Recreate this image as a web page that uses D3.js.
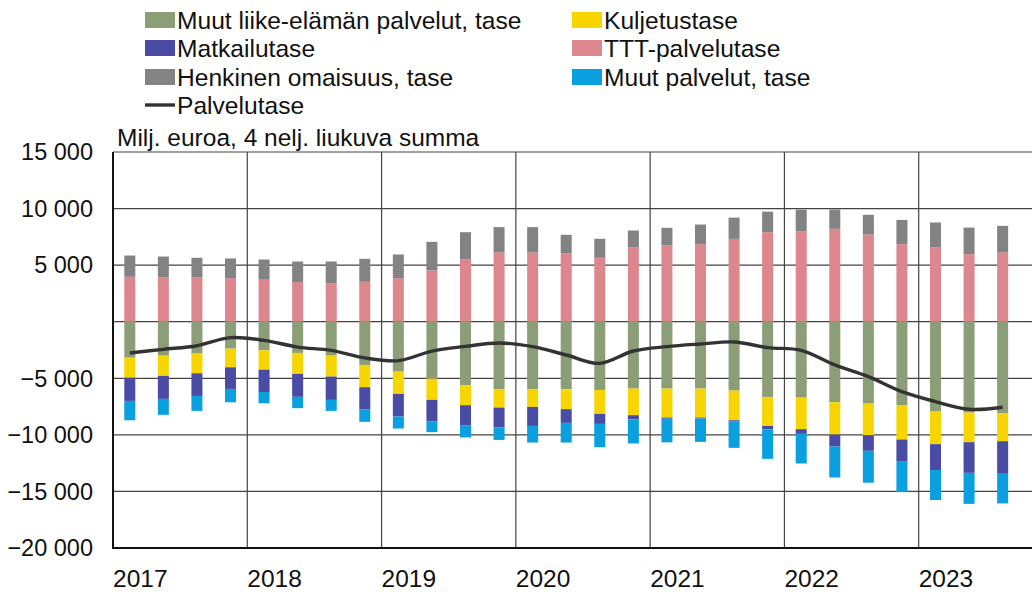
<!DOCTYPE html>
<html>
<head>
<meta charset="utf-8">
<script src="https://cdn.jsdelivr.net/npm/d3@7"></script>
<style>
  html, body { margin: 0; padding: 0; background: #fff; }
  svg { display: block; font-family: "Liberation Sans", Arial, sans-serif; }
</style>
</head>
<body>
<svg id="chart" width="1032" height="592"></svg>
<script>
const width = 1032;
const height = 592;

// quarters 2017Q1 .. 2023Q4 (last quarter has no data yet)
const years = [2017, 2018, 2019, 2020, 2021, 2022, 2023];
const quarters = [];
years.forEach(y => [1, 2, 3, 4].forEach(q => quarters.push(`${y}Q${q}`)));

// milj. euroa, 4 nelj. liukuva summa
const muutLiike = [-3180, -3000, -2820, -2380, -2530, -2760, -3000, -3820, -4410, -5030, -5620, -5970, -5970, -5970, -6030, -5910, -5910, -5910, -6090, -6650, -6710, -7120, -7240, -7410, -7940, -8030, -8090];
const kuljetus = [-1760, -1790, -1740, -1650, -1710, -1850, -1850, -1970, -1970, -1880, -1760, -1620, -1560, -1760, -2120, -2350, -2560, -2560, -2620, -2560, -2790, -2850, -2790, -3000, -2880, -2620, -2470];
const matkailu = [-2060, -2030, -2000, -1910, -1970, -2030, -2060, -1940, -2000, -1880, -1760, -1740, -1680, -1210, -880, -380, -100, -90, -120, -320, -410, -1060, -1380, -1910, -2290, -2710, -2880];
const ttt = [3970, 3910, 3910, 3850, 3710, 3500, 3410, 3530, 3850, 4530, 5500, 6120, 6120, 6060, 5650, 6590, 6740, 6850, 7320, 7910, 8000, 8210, 7710, 6850, 6590, 5970, 6120];
const henkinen = [1880, 1850, 1740, 1740, 1790, 1820, 1910, 2030, 2090, 2530, 2410, 2240, 2240, 1620, 1680, 1470, 1560, 1740, 1880, 1820, 1910, 1710, 1740, 2150, 2180, 2350, 2350];
const muutPalvelut = [-1710, -1410, -1320, -1180, -1000, -1000, -970, -1120, -1060, -970, -1090, -1120, -1470, -1740, -2060, -2120, -2090, -2060, -2320, -2590, -2620, -2740, -2820, -2740, -2650, -2740, -2620];
const palvelutase = [-2760, -2440, -2120, -1410, -1650, -2240, -2530, -3200, -3440, -2600, -2180, -1880, -2200, -2940, -3680, -2590, -2200, -1970, -1790, -2290, -2530, -3820, -4850, -6180, -7060, -7740, -7560];

const yTicks = [15000, 10000, 5000, 0, -5000, -10000, -15000, -20000];

const series = [
  { key: 'muutLiike', name: 'Muut liike-elämän palvelut, tase', values: muutLiike, color: '#8b9e77' },
  { key: 'kuljetus', name: 'Kuljetustase', values: kuljetus, color: '#f6d500' },
  { key: 'matkailu', name: 'Matkailutase', values: matkailu, color: '#4a4ba3' },
  { key: 'ttt', name: 'TTT-palvelutase', values: ttt, color: '#dc868e' },
  { key: 'henkinen', name: 'Henkinen omaisuus, tase', values: henkinen, color: '#838383' },
  { key: 'muutPalvelut', name: 'Muut palvelut, tase', values: muutPalvelut, color: '#0aa0e0' },
];

const rows = palvelutase.map((_, i) => {
  const r = { q: quarters[i] };
  series.forEach(s => { r[s.key] = s.values[i]; });
  return r;
});

const margin = { top: 152, left: 113, bottom: 44 };
const plotRight = 1053;   // plot continues past the image edge

const x = d3.scaleBand()
  .domain(quarters)
  .range([margin.left, plotRight])
  .paddingInner(0.672)
  .paddingOuter(0.336);

const y = d3.scaleLinear()
  .domain([-20000, 15000])
  .range([height - margin.bottom, margin.top]);

const svg = d3.select('#chart');
svg.append('rect').attr('width', width).attr('height', height).attr('fill', '#fff');

const edge = i => margin.left + i * x.step();

// grid
svg.append('g')
  .selectAll('line')
  .data(yTicks.filter(t => t !== -20000))
  .join('line')
  .attr('x1', margin.left).attr('x2', plotRight)
  .attr('y1', d => y(d)).attr('y2', d => y(d))
  .attr('stroke', '#444').attr('stroke-width', 1.2);

svg.append('g')
  .selectAll('line')
  .data(years.slice(1))
  .join('line')
  .attr('x1', (d, i) => edge((i + 1) * 4)).attr('x2', (d, i) => edge((i + 1) * 4))
  .attr('y1', y(15000)).attr('y2', y(-20000))
  .attr('stroke', '#444').attr('stroke-width', 1.2);

// bars
const stacked = d3.stack()
  .keys(series.map(s => s.key))
  .offset(d3.stackOffsetDiverging)(rows);

svg.append('g')
  .selectAll('g')
  .data(stacked)
  .join('g')
  .attr('fill', (d, i) => series[i].color)
  .selectAll('rect')
  .data(d => d)
  .join('rect')
  .attr('x', d => x(d.data.q))
  .attr('width', x.bandwidth())
  .attr('y', d => y(Math.max(d[0], d[1])))
  .attr('height', d => Math.abs(y(d[0]) - y(d[1])));

// line
const line = d3.line()
  .x((d, i) => x(quarters[i]) + x.bandwidth() / 2)
  .y(d => y(d))
  .curve(d3.curveCatmullRom.alpha(0.5));

svg.append('path')
  .datum(palvelutase)
  .attr('d', line)
  .attr('fill', 'none')
  .attr('stroke', '#333')
  .attr('stroke-width', 3.4)
  .attr('stroke-linejoin', 'round');

// axes lines
svg.append('line')
  .attr('x1', margin.left).attr('x2', margin.left)
  .attr('y1', y(15000)).attr('y2', y(-20000) + 1)
  .attr('stroke', '#111').attr('stroke-width', 2);
svg.append('line')
  .attr('x1', margin.left - 1).attr('x2', plotRight)
  .attr('y1', y(-20000)).attr('y2', y(-20000))
  .attr('stroke', '#111').attr('stroke-width', 2);

// y labels
const fmt = v => d3.format(',')(v).replace(/,/g, ' ');
svg.append('g')
  .selectAll('text')
  .data(yTicks.filter(t => t !== 0))
  .join('text')
  .attr('x', 93)
  .attr('y', d => y(d))
  .attr('dy', '0.35em')
  .attr('text-anchor', 'end')
  .attr('font-size', 23.5)
  .attr('fill', '#111')
  .text(fmt);

// year labels
svg.append('g')
  .selectAll('text')
  .data(years)
  .join('text')
  .attr('x', (d, i) => edge(i * 4))
  .attr('y', 587)
  .attr('font-size', 24.5)
  .attr('fill', '#111')
  .text(d => d);

// unit text
svg.append('text')
  .attr('x', 117).attr('y', 146)
  .attr('font-size', 24.5)
  .attr('fill', '#111')
  .text('Milj. euroa, 4 nelj. liukuva summa');

// legend
const legendItems = [
  { s: series[0], col: 0, row: 0 },
  { s: series[1], col: 1, row: 0 },
  { s: series[2], col: 0, row: 1 },
  { s: series[3], col: 1, row: 1 },
  { s: series[4], col: 0, row: 2 },
  { s: series[5], col: 1, row: 2 },
];
const colX = [145, 572];
const rowY = [20, 48, 77, 105];

const legend = svg.append('g');
legendItems.forEach(it => {
  legend.append('rect')
    .attr('x', colX[it.col]).attr('y', rowY[it.row] - 8)
    .attr('width', 30).attr('height', 16)
    .attr('fill', it.s.color);
  legend.append('text')
    .attr('x', colX[it.col] + 32).attr('y', rowY[it.row])
    .attr('dy', '0.35em')
    .attr('font-size', 24.6)
    .attr('fill', '#111')
    .text(it.s.name);
});
legend.append('line')
  .attr('x1', colX[0]).attr('x2', colX[0] + 30)
  .attr('y1', rowY[3]).attr('y2', rowY[3])
  .attr('stroke', '#333').attr('stroke-width', 3.4);
legend.append('text')
  .attr('x', colX[0] + 32).attr('y', rowY[3])
  .attr('dy', '0.35em')
  .attr('font-size', 24.6)
  .attr('fill', '#111')
  .text('Palvelutase');
</script>
</body>
</html>
